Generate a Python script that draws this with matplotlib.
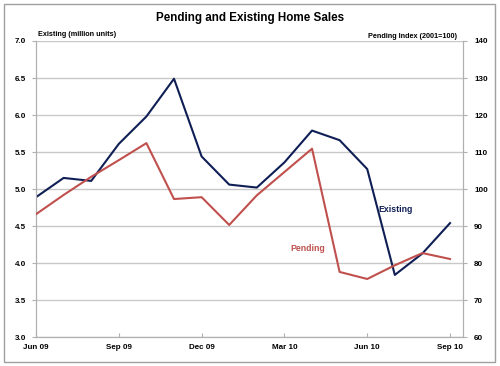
import matplotlib
matplotlib.use("Agg")
import matplotlib.pyplot as plt
from matplotlib.patches import Rectangle

plt.rcParams['font.family'] = ['Liberation Sans', 'DejaVu Sans']
plt.rcParams['font.weight'] = 'bold'

# monthly, Jun 09 .. Sep 10
months = ['Jun 09', 'Jul 09', 'Aug 09', 'Sep 09', 'Oct 09', 'Nov 09', 'Dec 09', 'Jan 10',
          'Feb 10', 'Mar 10', 'Apr 10', 'May 10', 'Jun 10', 'Jul 10', 'Aug 10', 'Sep 10']
existing = [4.89, 5.15, 5.11, 5.61, 5.98, 6.49, 5.44, 5.06,
            5.02, 5.36, 5.79, 5.66, 5.27, 3.84, 4.13, 4.54]
pending = [93.2, 98.4, 103.3, 107.8, 112.4, 97.3, 97.8, 90.3,
           98.3, 104.6, 110.9, 77.6, 75.7, 79.4, 82.7, 81.1]
tick_labels = ['Jun 09', 'Sep 09', 'Dec 09', 'Mar 10', 'Jun 10', 'Sep 10']

navy = '#0f1f55'
red = '#c0504d'
grey = '#b0b0b0'

x = list(range(len(months)))
tick_pos = [months.index(m) for m in tick_labels]

fig = plt.figure(figsize=(5, 3.66), dpi=100)
fig.patches.append(Rectangle((0.008, 0.011), 0.982, 0.978, transform=fig.transFigure,
                             fill=False, edgecolor='#a0a0a0', linewidth=1))
ax = fig.add_axes([0.072, 0.079, 0.854, 0.809])
ax2 = ax.twinx()

ax.plot(x, existing, color=navy, linewidth=1.5, zorder=3)
ax2.plot(x, pending, color=red, linewidth=1.5, zorder=3)

ax.set_xlim(0, 15.47)
ax.set_ylim(3.0, 7.0)
ax2.set_ylim(60, 140)
ax.set_yticks([3.0 + 0.5 * i for i in range(9)])
ax.set_yticklabels(['%.1f' % (3.0 + 0.5 * i) for i in range(9)])
ax2.set_yticks(range(60, 141, 10))
ax.set_xticks(tick_pos)
ax.set_xticklabels(tick_labels)

ax.grid(axis='y', color='#c8c8c8', linewidth=1)
ax.set_axisbelow(True)
for a in (ax, ax2):
    for s in a.spines.values():
        s.set_color(grey)
    a.spines['top'].set_visible(False)
ax.tick_params(axis='y', length=3, color=grey, labelsize=5.8, pad=4)
ax2.tick_params(axis='y', length=3, color=grey, labelsize=5.8, pad=5)
ax.tick_params(axis='x', direction='in', length=3, color=grey, labelsize=5.8, pad=5)

fig.text(0.5, 0.952, 'Pending and Existing Home Sales', ha='center', va='center',
         fontsize=8.4, fontweight='bold')
fig.text(0.077, 0.907, 'Existing (million units)', ha='left', va='center', fontsize=5.2)
fig.text(0.914, 0.901, 'Pending Index (2001=100)', ha='right', va='center', fontsize=5.2)

ax.text(12.4, 4.73, 'Existing', color=navy, fontsize=6.3, fontweight='bold', ha='left', va='center')
ax.text(9.2, 4.2, 'Pending', color=red, fontsize=6.3, fontweight='bold', ha='left', va='center')

fig.savefig('out.png', dpi=100)
